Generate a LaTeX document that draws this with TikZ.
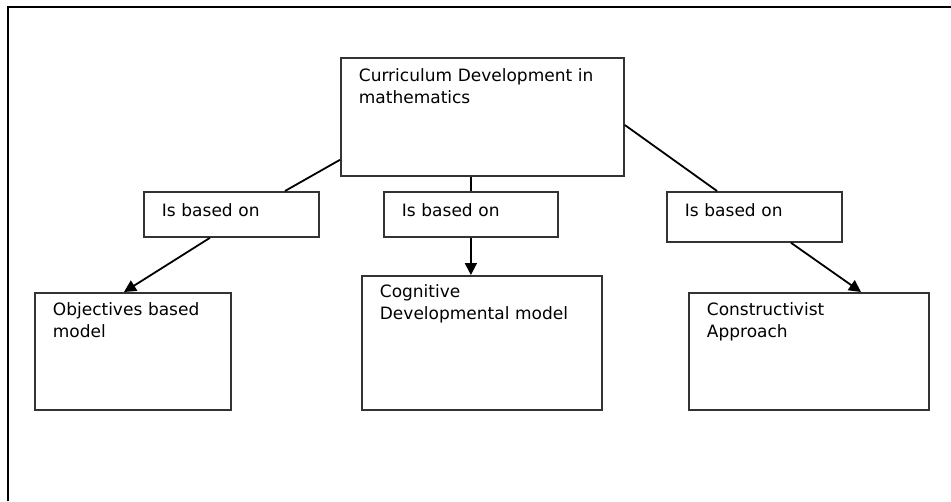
\documentclass[tikz,border=0pt]{standalone}
\usepackage{fontspec}
\setmainfont{DejaVu Sans}
\usepackage{tikz}
\usetikzlibrary{arrows.meta}

\begin{document}
\begin{tikzpicture}
      [
        x=1pt, y=-1pt,
        box/.style={draw=black!80, line width=1.8pt, anchor=north west, align=left,
          inner xsep=18pt, inner ysep=0pt, font=\fontsize{17}{22}\selectfont},
        link/.style={line width=1.8pt},
        arr/.style={link, -{Triangle[length=12pt,width=12pt]}}
      ]
      \useasboundingbox (0,0) rectangle (951,501);
      % frame
      \draw [line width=2.8pt] (8,501) |- (951,7);
      % main box
      \node [box, text width=247pt, text height=24pt, text depth=94pt] (curr) at (340,57)
        {Curriculum Development in\\mathematics};
      % links
      \node [box, text width=139pt, text height=25pt, text depth=20pt] (lbl1) at (143,191) {Is based on};
      \node [box, text width=138pt, text height=25pt, text depth=20pt] (lbl2) at (383,191) {Is based on};
      \node [box, text width=139pt, text height=25pt, text depth=25pt] (lbl3) at (666,191) {Is based on};
      % models
      \node [box, text width=160pt, text height=23pt, text depth=94pt] (objm) at (34,292)
        {Objectives based\\model};
      \node [box, text width=204pt, text height=22pt, text depth=112pt] (cogm) at (361,275)
        {Cognitive\\Developmental model};
      \node [box, text width=204pt, text height=23pt, text depth=94pt] (cons) at (688,292)
        {Constructivist\\Approach};
      % edges
      \draw [link] ([yshift=17pt]curr.south west) -- ([xshift=142pt]lbl1.north west);
      \draw [arr] ([xshift=67pt]lbl1.south west) -- ([xshift=90pt]objm.north west);
      \draw [link] (curr.south -| lbl2.north) -- (lbl2.north);
      \draw [arr] (lbl2.south) -- (lbl2.south |- cogm.north);
      \draw [link] ([yshift=-68pt]curr.north east) -- ([xshift=51pt]lbl3.north west);
      \draw [arr] ([xshift=125pt]lbl3.south west) -- ([xshift=173pt]cons.north west);
    \end{tikzpicture}
\end{document}
